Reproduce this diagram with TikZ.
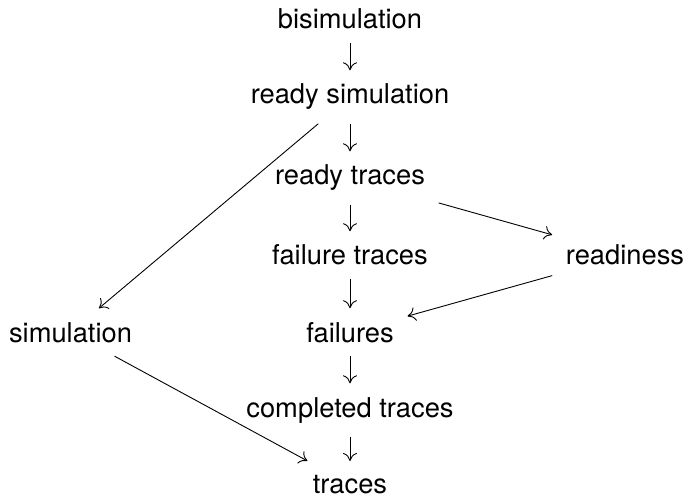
\documentclass[tikz,border=0pt]{standalone}
\usepackage{fontspec}
\setmainfont{TeX Gyre Heros}
\usetikzlibrary{arrows.meta}
\begin{document}
\begin{tikzpicture}[x=1pt,y=-1pt,
  lbl/.style={inner sep=13.6pt, anchor=base, font=\fontsize{27.3}{32}\selectfont},
  arr/.style={-{Computer Modern Rightarrow[length=8pt,width=14pt]}, line width=0.9pt}]
\useasboundingbox (0,0) rectangle (689,500);
\node[lbl] (bis) at (350,29) {bisimulation};
\node[lbl] (rs) at (350,104) {ready simulation};
\node[lbl] (rt) at (350,185) {ready traces};
\node[lbl] (ft) at (350,265) {failure traces};
\node[lbl] (rd) at (625,265) {readiness};
\node[lbl] (sim) at (70.5,342) {simulation};
\node[lbl] (fl) at (350,342) {failures};
\node[lbl] (ct) at (350,417) {completed traces};
\node[lbl] (tr) at (350,493) {traces};
\draw[arr] (bis) -- (rs);
\draw[arr] (rs) -- (rt);
\draw[arr] (rt) -- (ft);
\draw[arr] (ft) -- (fl);
\draw[arr] (fl) -- (ct);
\draw[arr] (ct) -- (tr);
\draw[arr] (rs) -- (sim);
\draw[arr] (rt) -- (rd);
\draw[arr] (rd) -- (fl);
\draw[arr] (sim) -- (tr);
\end{tikzpicture}
\end{document}
